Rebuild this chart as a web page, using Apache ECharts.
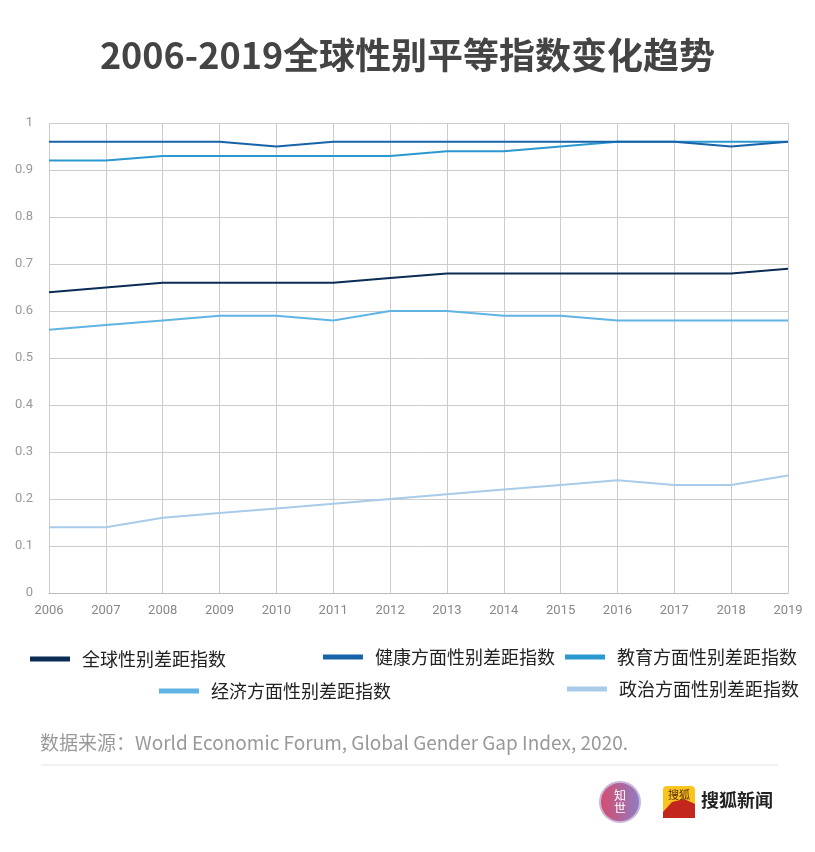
<!DOCTYPE html>
<html>
<head>
<meta charset="utf-8">
<script src="https://cdn.jsdelivr.net/npm/echarts@6/dist/echarts.min.js"></script>
<style>
  html, body { margin: 0; padding: 0; background: #fff; }
  #chart { width: 815px; height: 852px; }
</style>
</head>
<body>
<div id="chart"></div>
<script>
// 年份
var years = ['2006','2007','2008','2009','2010','2011','2012','2013','2014','2015','2016','2017','2018','2019'];
// 各指数
var globalIdx    = [0.64, 0.65, 0.66, 0.66, 0.66, 0.66, 0.67, 0.68, 0.68, 0.68, 0.68, 0.68, 0.68, 0.69];
var healthIdx    = [0.96, 0.96, 0.96, 0.96, 0.95, 0.96, 0.96, 0.96, 0.96, 0.96, 0.96, 0.96, 0.95, 0.96];
var educationIdx = [0.92, 0.92, 0.93, 0.93, 0.93, 0.93, 0.93, 0.94, 0.94, 0.95, 0.96, 0.96, 0.96, 0.96];
var economyIdx   = [0.56, 0.57, 0.58, 0.59, 0.59, 0.58, 0.60, 0.60, 0.59, 0.59, 0.58, 0.58, 0.58, 0.58];
var politicsIdx  = [0.14, 0.14, 0.16, 0.17, 0.18, 0.19, 0.20, 0.21, 0.22, 0.23, 0.24, 0.23, 0.23, 0.25];
var seriesNames  = ['全球性别差距指数','健康方面性别差距指数','教育方面性别差距指数','经济方面性别差距指数','政治方面性别差距指数'];
var colors = ['#0b2c54', '#1663a9', '#2b98d0', '#60b4e3', '#a9cbea'];

var cjk = '"Noto Sans CJK SC", "Noto Sans", sans-serif';

function makeLine(i, data) {
    return {
        name: seriesNames[i],
        type: 'line',
        data: data,
        symbol: 'none',
        z: 10 - i,
        lineStyle: { width: 2, color: colors[i] },
        itemStyle: { color: colors[i] }
    };
}

// 图例 每项单独定位
function makeLegend(i, left, top) {
    return {
        data: [seriesNames[i]],
        left: left,
        top: top,
        icon: 'rect',
        itemWidth: 40,
        itemHeight: 5,
        textStyle: { fontSize: 18, color: '#222', fontFamily: cjk, padding: [0, 0, 0, 7] }
    };
}

var e = echarts.init(document.getElementById('chart'));

var option = {
    backgroundColor: '#fff',
    animation: false,
    title: {
        text: '2006-2019全球性别平等指数变化趋势',
        left: 'center',
        top: 32,
        textStyle: { fontSize: 36, fontWeight: 'bold', color: '#444', fontFamily: cjk }
    },
    legend: [
        makeLegend(0, 25, 645),
        makeLegend(1, 318, 643),
        makeLegend(2, 560, 643),
        makeLegend(3, 154, 677),
        makeLegend(4, 562, 675)
    ],
    grid: { left: 49, right: 27, top: 123, bottom: 259 },
    xAxis: {
        type: 'category',
        data: years,
        boundaryGap: false,
        axisLine: { lineStyle: { color: '#bbb' } },
        axisTick: { show: false },
        axisLabel: { color: '#888', fontSize: 13, margin: 11, fontFamily: 'Roboto, sans-serif' },
        splitLine: { show: true, lineStyle: { color: '#ccc', width: 1 } }
    },
    yAxis: {
        type: 'value',
        min: 0,
        max: 1,
        interval: 0.1,
        axisLine: { show: false },
        axisTick: { show: false },
        axisLabel: { color: '#999', fontSize: 13, margin: 16, fontFamily: 'Roboto, sans-serif' },
        splitLine: { lineStyle: { color: '#ccc', width: 1 } }
    },
    series: [
        makeLine(0, globalIdx),
        makeLine(1, healthIdx),
        makeLine(2, educationIdx),
        makeLine(3, economyIdx),
        makeLine(4, politicsIdx)
    ],
    graphic: [
        {
            type: 'text',
            left: 40,
            top: 733,
            style: {
                text: '数据来源：World Economic Forum, Global Gender Gap Index, 2020.',
                fontSize: 19,
                fill: '#999',
                fontFamily: cjk
            }
        },
        {
            type: 'line',
            shape: { x1: 41, y1: 765, x2: 778, y2: 765 },
            style: { stroke: '#e2e2e2', lineWidth: 1 }
        },
        // 知世 logo
        {
            type: 'circle',
            shape: { cx: 620, cy: 802, r: 20 },
            style: {
                fill: new echarts.graphic.LinearGradient(0, 0, 1, 0, [
                    { offset: 0, color: '#d94a6a' },
                    { offset: 1, color: '#8c7fc6' }
                ]),
                stroke: '#c9b6dc',
                lineWidth: 2
            }
        },
        {
            type: 'text',
            x: 620,
            y: 802,
            style: {
                text: '知\n世',
                fontSize: 12,
                lineHeight: 13,
                fill: '#fff',
                align: 'center',
                verticalAlign: 'middle',
                fontFamily: cjk
            }
        },
        // 搜狐 logo
        {
            type: 'rect',
            shape: { x: 663, y: 786, width: 32, height: 32, r: 4 },
            style: { fill: '#f7c51e' }
        },
        {
            type: 'polygon',
            shape: { points: [[663, 812], [672, 802], [684, 799], [695, 804], [695, 818], [663, 818]] },
            style: { fill: '#c2261c' }
        },
        {
            type: 'text',
            x: 679,
            y: 795,
            style: {
                text: '搜狐',
                fontSize: 11,
                fill: '#5a2a10',
                align: 'center',
                verticalAlign: 'middle',
                fontFamily: cjk
            }
        },
        {
            type: 'text',
            left: 701,
            top: 791,
            style: {
                text: '搜狐新闻',
                fontSize: 18,
                fontWeight: 'bold',
                fill: '#222',
                fontFamily: cjk
            }
        }
    ]
};

e.setOption(option);
</script>
</body>
</html>
